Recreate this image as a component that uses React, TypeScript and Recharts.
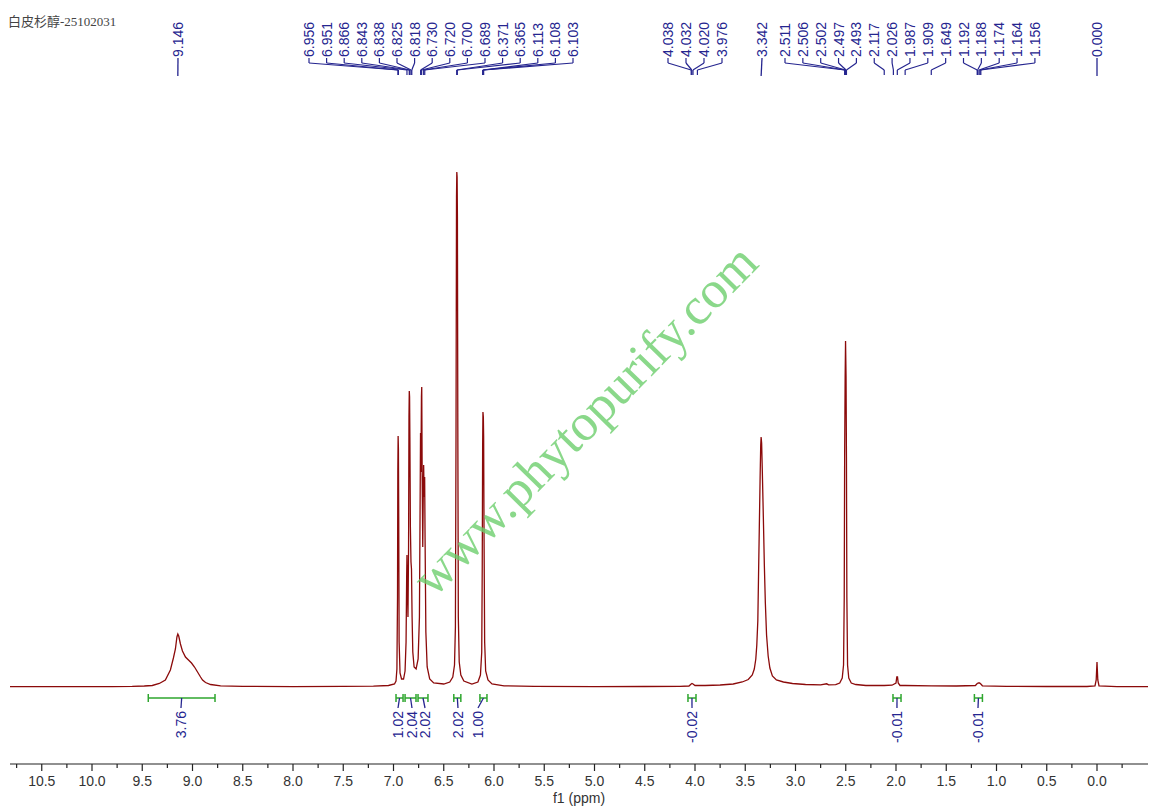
import { ComposedChart, Line, Scatter, XAxis, YAxis, ReferenceLine } from 'recharts';

// picture geometry used to place the annotation rows
const BASE_PX = 687;
const PLOT_BOTTOM_PX = 764;
const ZERO_PX = 1097;
const PX_PER_PPM = 100.5;
const X_MIN = (ZERO_PX - 1148) / PX_PER_PPM;
const X_MAX = (ZERO_PX - 10) / PX_PER_PPM;

const px2ppm = (px: number) => (ZERO_PX - px) / PX_PER_PPM;
const row = (px: number) => BASE_PX - px;

// spectrum, [ppm, intensity]
const baselineLeft = [[10.816, 0.3], [10.3, 0.3], [9.8, 0.4], [9.6, 0.6]];
const broadOH = [
  [9.48, 1], [9.4, 1.5], [9.33, 3.5], [9.27, 7], [9.22, 17], [9.19, 29], [9.17, 38], [9.155, 50],
  [9.146, 53], [9.137, 51], [9.12, 43], [9.1, 36], [9.07, 30], [9.04, 27], [9.01, 24], [8.98, 20],
  [8.95, 15], [8.92, 10], [8.9, 7], [8.87, 4.5], [8.82, 2.5], [8.72, 1.2], [8.5, 0.6], [8.0, 0.4],
  [7.5, 0.6], [7.2, 0.8],
];
const aromatic = [
  [7.05, 1.5], [6.99, 3], [6.975, 6], [6.966, 18], [6.96, 90], [6.957, 215], [6.954, 251], [6.951, 238],
  [6.948, 170], [6.944, 45], [6.935, 14], [6.92, 8], [6.9, 8], [6.885, 16], [6.875, 45], [6.869, 110],
  [6.866, 132], [6.862, 100], [6.856, 70], [6.85, 140], [6.846, 270], [6.843, 296], [6.84, 290],
  [6.837, 250], [6.832, 160], [6.826, 125], [6.821, 118], [6.815, 70], [6.808, 35], [6.795, 20],
  [6.775, 18], [6.755, 28], [6.742, 70], [6.736, 170], [6.731, 254], [6.727, 215], [6.722, 290],
  [6.719, 300], [6.715, 215], [6.709, 140], [6.703, 200], [6.7, 222], [6.695, 190], [6.69, 210],
  [6.686, 150], [6.678, 55], [6.665, 20], [6.64, 8], [6.6, 4], [6.5, 3], [6.44, 5], [6.41, 10],
  [6.393, 22], [6.384, 60], [6.378, 250], [6.373, 490], [6.37, 515], [6.367, 510], [6.364, 470],
  [6.36, 260], [6.355, 70], [6.346, 25], [6.33, 12], [6.3, 6], [6.22, 3], [6.16, 5], [6.135, 12],
  [6.122, 35], [6.117, 120], [6.113, 240], [6.11, 275], [6.106, 270], [6.103, 250], [6.099, 150],
  [6.093, 45], [6.083, 16], [6.06, 7], [6.02, 3], [5.9, 1.2], [5.6, 0.6], [5.0, 0.4], [4.5, 0.5],
  [4.15, 0.6],
];
const smallFour = [[4.06, 1], [4.038, 3], [4.03, 3.5], [4.02, 3], [4.0, 1.5], [3.976, 1.5], [3.9, 1.5]];
const water = [
  [3.75, 2], [3.62, 3], [3.53, 5], [3.47, 7.5], [3.43, 12], [3.41, 18], [3.395, 28], [3.385, 42],
  [3.375, 66], [3.368, 110], [3.36, 160], [3.352, 210], [3.346, 242], [3.342, 250], [3.337, 244],
  [3.33, 215], [3.32, 170], [3.31, 122], [3.3, 84], [3.288, 52], [3.272, 31], [3.255, 19], [3.23, 11],
  [3.19, 7], [3.12, 5], [3.03, 3.5], [2.9, 2.5], [2.75, 2.2], [2.69, 3.2], [2.67, 2.2], [2.6, 2.3],
];
const dmso = [
  [2.56, 4], [2.535, 9], [2.522, 22], [2.515, 90], [2.511, 230], [2.506, 310], [2.502, 346],
  [2.497, 310], [2.493, 230], [2.489, 90], [2.482, 22], [2.47, 9], [2.445, 4], [2.4, 2.5],
  [2.3, 1.5], [2.117, 1.5],
];
const upfield = [
  [2.04, 1.8], [2.0, 4], [1.992, 10], [1.985, 10], [1.978, 4], [1.96, 1.5], [1.909, 1.5],
  [1.649, 1.2], [1.4, 1], [1.21, 1.5], [1.192, 3.5], [1.18, 4], [1.168, 4], [1.156, 3], [1.14, 1.2],
  [0.9, 0.6], [0.5, 0.5], [0.1, 0.5], [0.02, 1.2], [0.008, 7], [0.0, 25], [-0.008, 7], [-0.02, 1.2],
  [-0.2, 0.4], [-0.5075, 0.4],
];

// peak pick labels, grouped as printed across the top
const labelsA = ['9.146'];
const labelsB = ['6.956', '6.951', '6.866', '6.843', '6.838', '6.825', '6.818', '6.730', '6.720', '6.700', '6.689', '6.371', '6.365', '6.113', '6.108', '6.103'];
const labelsC = ['4.038', '4.032', '4.020', '3.976'];
const labelsD = ['3.342'];
const labelsE = ['2.511', '2.506', '2.502', '2.497', '2.493', '2.117', '2.026', '1.987', '1.909', '1.649', '1.192', '1.188', '1.174', '1.164', '1.156'];
const labelsF = ['0.000'];

// integrals
const integralValues = ['3.76', '1.02', '2.04', '2.02', '2.02', '1.00', '-0.02', '-0.01', '-0.01'];
const integralFrom = [9.44, 6.975, 6.885, 6.756, 6.4, 6.14, 4.07, 2.03, 1.22];
const integralTo = [8.776, 6.905, 6.776, 6.657, 6.33, 6.07, 3.99, 1.95, 1.14];
const integralLabelPx = [181, 398, 412, 425, 458, 478, 692, 897, 978];

const xTicks = [
  10.75, 10.5, 10.25, 10.0, 9.75, 9.5, 9.25, 9.0, 8.75, 8.5, 8.25, 8.0, 7.75, 7.5, 7.25, 7.0, 6.75, 6.5,
  6.25, 6.0, 5.75, 5.5, 5.25, 5.0, 4.75, 4.5, 4.25, 4.0, 3.75, 3.5, 3.25, 3.0, 2.75, 2.5, 2.25, 2.0,
  1.75, 1.5, 1.25, 1.0, 0.75, 0.5, 0.25, 0.0, -0.25,
];

const spectrum = [...baselineLeft, ...broadOH, ...aromatic, ...smallFour, ...water, ...dmso, ...upfield]
  .map(([x, y]) => ({ x, y }))
  .sort((a, b) => b.x - a.x);

const groups = [
  { labels: labelsA, start: 178, step: 0 },
  { labels: labelsB, start: 309, step: 17.6 },
  { labels: labelsC, start: 668, step: 18 },
  { labels: labelsD, start: 762, step: 0 },
  { labels: labelsE, start: 785, step: 17.85 },
  { labels: labelsF, start: 1097, step: 0 },
];

const peakLabels = groups.flatMap((g) =>
  g.labels.map((l, i) => ({
    x: px2ppm(g.start + i * g.step),
    y: row(57),
    label: l,
    peak: parseFloat(l),
    single: g.labels.length === 1,
  })),
);

const integralLabels = integralValues.map((v, i) => ({
  x: px2ppm(integralLabelPx[i]),
  y: row(711),
  label: v,
}));

const NAVY = '#25258f';
const GREEN = '#2ea62e';

const PeakText = (p: any) => (
  <text
    x={p.cx}
    y={p.cy + 5}
    transform={`rotate(-90 ${p.cx} ${p.cy})`}
    fontSize={14}
    fontFamily="'Liberation Sans', Arial, sans-serif"
    fill={NAVY}
    textAnchor="start"
  >
    {p.payload.label}
  </text>
);

const IntegralText = (p: any) => (
  <text
    x={p.cx}
    y={p.cy + 5}
    transform={`rotate(-90 ${p.cx} ${p.cy})`}
    fontSize={14}
    fontFamily="'Liberation Sans', Arial, sans-serif"
    fill={NAVY}
    textAnchor="end"
  >
    {p.payload.label}
  </text>
);

const AxisTick = ({ x, y, payload }: any) => {
  const v = payload.value;
  const major = Math.abs(v * 2 - Math.round(v * 2)) < 1e-6;
  return (
    <g>
      <line x1={x} x2={x} y1={y} y2={y + (major ? 7 : 4)} stroke="#222" strokeWidth={1.2} />
      {major && v >= 0 && (
        <text x={x} y={y + 22} textAnchor="middle" fontSize={14} fill="#333" fontFamily="'Liberation Sans', Arial, sans-serif">
          {v.toFixed(1)}
        </text>
      )}
    </g>
  );
};

export default function App() {
  return (
    <div style={{ position: 'absolute', left: 0, top: 0, width: 1155, height: 812, background: '#fff', overflow: 'hidden' }}>
      <div
        style={{
          position: 'absolute',
          left: 8,
          top: 11,
          fontSize: 13,
          color: '#444',
          fontFamily: "'Liberation Serif', 'Noto Sans CJK SC', serif",
        }}
      >
        白皮杉醇-25102031
      </div>
      <ComposedChart
        width={1155}
        height={812}
        data={spectrum}
        margin={{ top: 0, right: 7, bottom: 0, left: 10 }}
      >
        <XAxis
          dataKey="x"
          type="number"
          domain={[X_MIN, X_MAX]}
          allowDataOverflow
          reversed
          ticks={xTicks}
          interval={0}
          tick={<AxisTick />}
          tickLine={false}
          tickSize={0}
          tickMargin={0}
          height={812 - PLOT_BOTTOM_PX}
          axisLine={{ stroke: '#222', strokeWidth: 1.2 }}
          label={{ value: 'f1 (ppm)', position: 'insideBottom', offset: 9, fill: '#333', fontSize: 14, fontFamily: "'Liberation Sans', Arial, sans-serif" }}
        />
        <YAxis dataKey="y" type="number" hide domain={[row(PLOT_BOTTOM_PX), BASE_PX]} allowDataOverflow />
        <Line
          dataKey="y"
          type="linear"
          stroke="#8b0a0a"
          strokeWidth={1.3}
          dot={false}
          activeDot={false}
          isAnimationActive={false}
        />
        {peakLabels.map((p, i) =>
          p.single ? (
            <ReferenceLine
              key={`s${i}`}
              segment={[{ x: p.x, y: row(58) }, { x: p.peak, y: row(76) }]}
              stroke={NAVY}
              strokeWidth={1.3}
              ifOverflow="visible"
            />
          ) : (
            [
              <ReferenceLine key={`a${i}`} segment={[{ x: p.x, y: row(58) }, { x: p.x, y: row(63) }]} stroke={NAVY} strokeWidth={1.2} ifOverflow="visible" />,
              <ReferenceLine key={`b${i}`} segment={[{ x: p.x, y: row(63) }, { x: p.peak, y: row(70) }]} stroke={NAVY} strokeWidth={1.2} ifOverflow="visible" />,
              <ReferenceLine key={`c${i}`} segment={[{ x: p.peak, y: row(70) }, { x: p.peak, y: row(75) }]} stroke={NAVY} strokeWidth={1.2} ifOverflow="visible" />,
            ]
          ),
        )}
        {integralValues.map((_, i) => {
          const mid = (integralFrom[i] + integralTo[i]) / 2;
          return [
            <ReferenceLine key={`ih${i}`} segment={[{ x: integralFrom[i], y: row(698) }, { x: integralTo[i], y: row(698) }]} stroke={GREEN} strokeWidth={1.5} ifOverflow="visible" />,
            <ReferenceLine key={`il${i}`} segment={[{ x: integralFrom[i], y: row(694) }, { x: integralFrom[i], y: row(702) }]} stroke={GREEN} strokeWidth={1.5} ifOverflow="visible" />,
            <ReferenceLine key={`ir${i}`} segment={[{ x: integralTo[i], y: row(694) }, { x: integralTo[i], y: row(702) }]} stroke={GREEN} strokeWidth={1.5} ifOverflow="visible" />,
            <ReferenceLine key={`iv${i}`} segment={[{ x: mid, y: row(698) }, { x: integralLabels[i].x, y: row(708) }]} stroke={NAVY} strokeWidth={1.3} ifOverflow="visible" />,
          ];
        })}
        <Scatter data={peakLabels} shape={<PeakText />} isAnimationActive={false} />
        <Scatter data={integralLabels} shape={<IntegralText />} isAnimationActive={false} />
      </ComposedChart>
      <div
        style={{
          position: 'absolute',
          left: 585,
          top: 420,
          transform: 'translate(-50%, -50%) rotate(-45.6deg)',
          whiteSpace: 'nowrap',
          fontSize: 52,
          color: 'rgba(105, 205, 105, 0.78)',
          fontFamily: "'Liberation Serif', serif",
          pointerEvents: 'none',
          lineHeight: 1,
        }}
      >
        www.phytopurify.com
      </div>
    </div>
  );
}
